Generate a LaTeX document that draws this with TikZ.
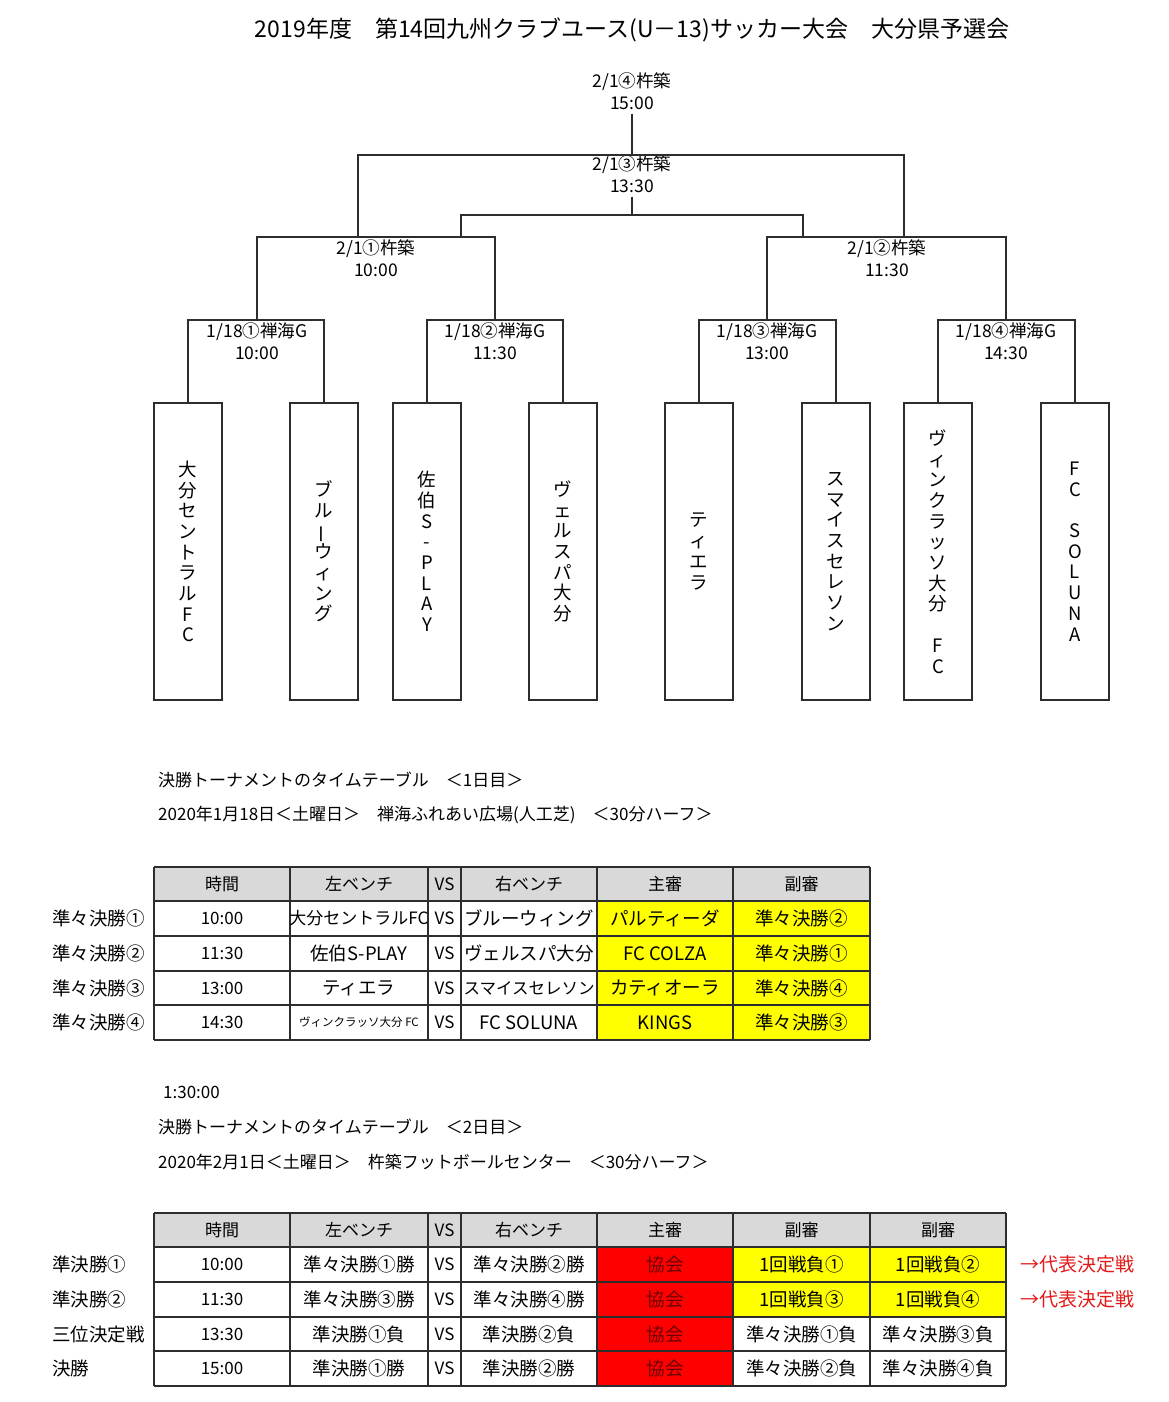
\documentclass[tikz,border=0pt]{standalone}
\usepackage{fontspec}
\usepackage{graphicx}
\setmainfont{Noto Sans CJK JP}
\definecolor{hdrgray}{RGB}{217,217,217}
\definecolor{ylw}{RGB}{255,255,0}
\definecolor{bgred}{RGB}{255,0,0}
\definecolor{kred}{RGB}{105,0,0}
\definecolor{anno}{RGB}{225,25,25}
\definecolor{lin}{RGB}{45,45,45}
\begin{document}
\begin{tikzpicture}[x=1pt,y=-1pt,
  bline/.style={line width=1.5pt, draw=lin},
  grid/.style={line width=1.5pt, draw=lin},
  team/.style={draw=lin, line width=1.5pt, minimum width=68pt, minimum height=297pt, inner sep=0pt, align=center, font=\fontsize{18.5}{20.7}\selectfont},
  blab/.style={align=center, font=\fontsize{17.5}{22}\selectfont, inner sep=0pt},
  cell/.style={font=\fontsize{18.5}{20}\selectfont, inner sep=0pt},
  hcell/.style={font=\fontsize{17}{20}\selectfont, inner sep=0pt},
  rowlab/.style={anchor=west, font=\fontsize{18.5}{20}\selectfont, inner sep=0pt},
  subhd/.style={anchor=west, font=\fontsize{17}{20}\selectfont, inner sep=0pt},
  annot/.style={anchor=west, font=\fontsize{19}{20}\selectfont, inner sep=0pt, text=anno}]
\useasboundingbox (0,0) rectangle (1168,1402);
\fill[white] (0,0) rectangle (1168,1402);

% title
\node[font=\fontsize{23}{26}\selectfont, inner sep=0pt] (title) at (632,30) {2019年度　第14回九州クラブユース(U－13)サッカー大会　大分県予選会};

% team boxes
\node[team] (t1) at (188,551.5) {大\\分\\セ\\ン\\ト\\ラ\\ル\\F\\C};
\node[team] (t2) at (324,551.5) {ブ\\ル\\\rotatebox[origin=c]{90}{ー}\\ウ\\ィ\\ン\\グ};
\node[team] (t3) at (427,551.5) {佐\\伯\\S\\-\\P\\L\\A\\Y};
\node[team] (t4) at (563,551.5) {ヴ\\ェ\\ル\\ス\\パ\\大\\分};
\node[team] (t5) at (699,551.5) {テ\\ィ\\エ\\ラ};
\node[team] (t6) at (836,551.5) {ス\\マ\\イ\\ス\\セ\\レ\\ソ\\ン};
\node[team] (t7) at (938,551.5) {ヴ\\ィ\\ン\\ク\\ラ\\ッ\\ソ\\大\\分\\\mbox{}\\F\\C};
\node[team] (t8) at (1075,551.5) {F\\C\\\mbox{}\\S\\O\\L\\U\\N\\A};

% bracket labels
\node[blab] (qf1) at (257,341) {1/18①禅海G\\10:00};
\node[blab] (qf2) at (495,341) {1/18②禅海G\\11:30};
\node[blab] (qf3) at (767,341) {1/18③禅海G\\13:00};
\node[blab] (qf4) at (1006,341) {1/18④禅海G\\14:30};
\node[blab] (sf1) at (376,258) {2/1①杵築\\10:00};
\node[blab] (sf2) at (887,258) {2/1②杵築\\11:30};
\node[blab] (third) at (632,174) {2/1③杵築\\13:30};
\node[blab] (fin) at (632,91) {2/1④杵築\\15:00};

% bracket junctions
\coordinate (q1) at (257,320);
\coordinate (q2) at (495,320);
\coordinate (q3) at (767,320);
\coordinate (q4) at (1006,320);
\coordinate (s1) at (376,237);
\coordinate (s2) at (887,237);
\coordinate (a1) at (358,237);
\coordinate (a2) at (904,237);
\coordinate (b1) at (461,237);
\coordinate (b2) at (803,237);
\coordinate (f) at (632,155);
\coordinate (m) at (632,215);

\draw[bline] (t1.north) |- (q1) -| (t2.north);
\draw[bline] (t3.north) |- (q2) -| (t4.north);
\draw[bline] (t5.north) |- (q3) -| (t6.north);
\draw[bline] (t7.north) |- (q4) -| (t8.north);
\draw[bline] (q1) |- (s1) -| (q2);
\draw[bline] (q3) |- (s2) -| (q4);
\draw[bline] (a1) |- (f) -| (a2);
\draw[bline] (b1) |- (m) -| (b2);
\draw[bline] ([yshift=-4pt]fin.south) -- (f);
\draw[bline] ([yshift=-4pt]third.south) -- (m);

% day 1 headings
\node[subhd] (d1a) at (158,780) {決勝トーナメントのタイムテーブル　＜1日目＞};
\node[subhd] (d1b) at (158,815) {2020年1月18日＜土曜日＞　禅海ふれあい広場(人工芝)　＜30分ハーフ＞};

% table 1
\fill[hdrgray] (154,867) rectangle (870,901);
\fill[ylw] (597,901) rectangle (870,1040);
\foreach \yy in {867,901,936,971,1005,1040} \draw[grid] (154,\yy) -- (870,\yy);
\foreach \xx in {154,290,428,461,597,733,870} \draw[grid] (\xx,867) -- (\xx,1040);
\foreach \txt/\xx [count=\i] in {時間/222,左ベンチ/359,VS/444.5,右ベンチ/529,主審/665,副審/801.5}
  \node[hcell] (ha-\i) at (\xx,884) {\txt};
\foreach \yy/\lab/\tm/\lft/\rgt/\rf/\sb [count=\r] in {
  918.5/準々決勝①/10:00/{\fontsize{17}{20}\selectfont 大分セントラルFC}/ブルーウィング/パルティーダ/準々決勝②,
  953.5/準々決勝②/11:30/佐伯S-PLAY/ヴェルスパ大分/FC COLZA/準々決勝①,
  988/準々決勝③/13:00/ティエラ/{\fontsize{16.5}{20}\selectfont スマイスセレソン}/カティオーラ/準々決勝④,
  1022.5/準々決勝④/14:30/{\fontsize{11.5}{12}\selectfont ヴィンクラッソ大分 FC}/FC SOLUNA/KINGS/準々決勝③}{
  \node[rowlab] (la-\r) at (52,\yy) {\lab};
  \node[hcell] (ta-\r) at (222,\yy) {\tm};
  \node[cell] (lb-\r) at (359,\yy) {\lft};
  \node[hcell] (va-\r) at (444.5,\yy) {VS};
  \node[cell] (rb-\r) at (529,\yy) {\rgt};
  \node[cell] (ra-\r) at (665,\yy) {\rf};
  \node[cell] (sa-\r) at (801.5,\yy) {\sb};
}

% day 2 headings
\node[subhd] (tm) at (163,1092) {1:30:00};
\node[subhd] (d2a) at (158,1127) {決勝トーナメントのタイムテーブル　＜2日目＞};
\node[subhd] (d2b) at (158,1162) {2020年2月1日＜土曜日＞　杵築フットボールセンター　＜30分ハーフ＞};

% table 2
\fill[hdrgray] (154,1213) rectangle (1006,1247);
\fill[bgred] (597,1247) rectangle (733,1386);
\fill[ylw] (733,1247) rectangle (1006,1317);
\foreach \yy in {1213,1247,1282,1317,1351,1386} \draw[grid] (154,\yy) -- (1006,\yy);
\foreach \xx in {154,290,428,461,597,733,870,1006} \draw[grid] (\xx,1213) -- (\xx,1386);
\foreach \txt/\xx [count=\i] in {時間/222,左ベンチ/359,VS/444.5,右ベンチ/529,主審/665,副審/801.5,副審/938}
  \node[hcell] (hb-\i) at (\xx,1230) {\txt};
\foreach \yy/\lab/\tm/\lft/\rgt/\sa/\sb [count=\r] in {
  1264.5/準決勝①/10:00/準々決勝①勝/準々決勝②勝/1回戦負①/1回戦負②,
  1299.5/準決勝②/11:30/準々決勝③勝/準々決勝④勝/1回戦負③/1回戦負④,
  1334/三位決定戦/13:30/準決勝①負/準決勝②負/準々決勝①負/準々決勝③負,
  1368.5/決勝/15:00/準決勝①勝/準決勝②勝/準々決勝②負/準々決勝④負}{
  \node[rowlab] (lc-\r) at (52,\yy) {\lab};
  \node[hcell] (tc-\r) at (222,\yy) {\tm};
  \node[cell] (lcb-\r) at (359,\yy) {\lft};
  \node[hcell] (vc-\r) at (444.5,\yy) {VS};
  \node[cell] (rcb-\r) at (529,\yy) {\rgt};
  \node[cell, text=kred] (mc-\r) at (665,\yy) {協会};
  \node[cell] (sc-\r) at (801.5,\yy) {\sa};
  \node[cell] (sd-\r) at (938,\yy) {\sb};
}
\node[annot] (an1) at (1020,1264.5) {→代表決定戦};
\node[annot] (an2) at (1020,1299.5) {→代表決定戦};
\end{tikzpicture}
\end{document}
